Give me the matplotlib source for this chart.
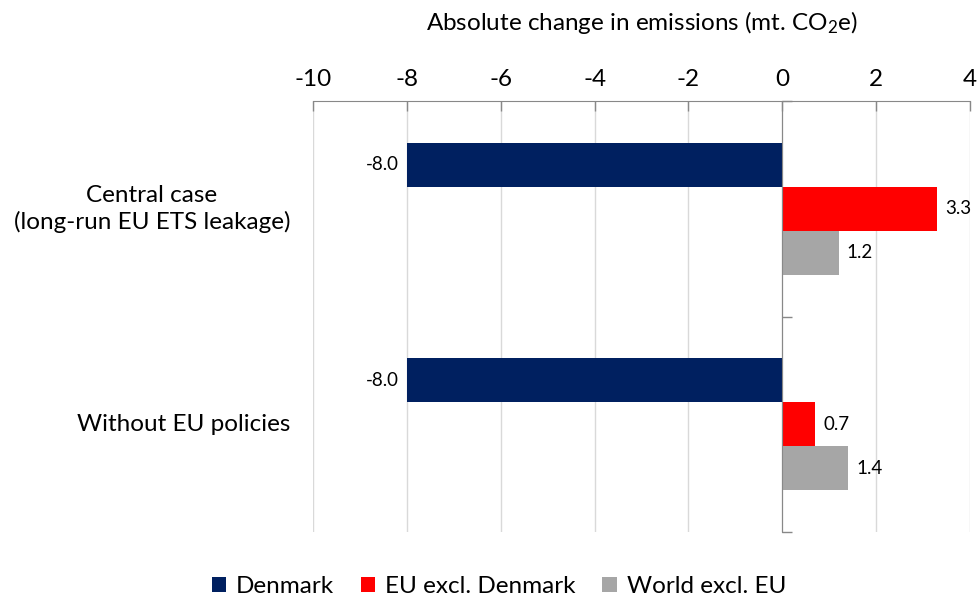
import matplotlib
matplotlib.use("Agg")
import matplotlib.pyplot as plt
import matplotlib.transforms as mtransforms
from matplotlib.patches import Patch
import numpy as np

plt.rcParams['font.family'] = ['Lato', 'DejaVu Sans']
plt.rcParams['mathtext.fontset'] = 'custom'
plt.rcParams['mathtext.rm'] = 'Lato'
plt.rcParams['mathtext.it'] = 'Lato:italic'
plt.rcParams['mathtext.bf'] = 'Lato:bold'

categories = ["Central case\n(long-run EU ETS leakage)", "Without EU policies"]
series_names = ["Denmark", "EU excl. Denmark", "World excl. EU"]
denmark = [-8.0, -8.0]
eu_excl_dk = [3.3, 0.7]
world_excl_eu = [1.2, 1.4]
x_ticks = [-10, -8, -6, -4, -2, 0, 2, 4]

colors = ["#002060", "#FF0000", "#A6A6A6"]
values = [denmark, eu_excl_dk, world_excl_eu]

fig = plt.figure(figsize=(9.78, 6.01), dpi=100)
ax = fig.add_axes([313 / 978, 1 - 532 / 601, (970 - 313) / 978, (532 - 101) / 601])

bar_h = 0.204
offsets = [-bar_h, 0.0, bar_h]
y = np.arange(len(categories))
for vals, off, col in zip(values, offsets, colors):
    bars = ax.barh(y + off, vals, height=bar_h, color=col, zorder=3)
    for b, v in zip(bars, vals):
        yc = b.get_y() + b.get_height() / 2
        if v < 0:
            ax.annotate(f"{v:.1f}", (v, yc), xytext=(-6, 0), textcoords="offset points",
                        ha="right", va="center", fontsize=13.5, color="#000000")
        else:
            ax.annotate(f"{v:.1f}", (v, yc), xytext=(6, 0), textcoords="offset points",
                        ha="left", va="center", fontsize=13.5, color="#000000")

ax.set_xlim(-10, 4)
ax.set_ylim(len(categories) - 0.5, -0.5)

# x axis along the top
ax.xaxis.tick_top()
ax.xaxis.set_label_position("top")
ax.set_xticks(x_ticks)
ax.set_xticklabels([f"{t}" for t in x_ticks])
ax.tick_params(axis="x", direction="in", length=7, width=1, color="#888888",
               labelsize=17.5, pad=8, labelcolor="#000000")
ax.set_xlabel("Absolute change in emissions (mt. CO$_2$e)", fontsize=17.5, labelpad=28)
ax.xaxis.grid(True, color="#D9D9D9", linewidth=1, zorder=0)

# vertical axis crossing at zero, with ticks at the category boundaries
for s in ["right", "bottom"]:
    ax.spines[s].set_visible(False)
ax.spines["top"].set_color("#888888")
ax.spines["left"].set_position(("data", 0))
ax.spines["left"].set_color("#888888")
ax.spines["left"].set_zorder(4)
ax.set_yticks([-0.5, 0.5, 1.5])
ax.set_yticklabels([])
ax.tick_params(axis="y", direction="in", length=7, width=1, color="#888888")

trans = mtransforms.blended_transform_factory(ax.transAxes, ax.transData)
for yi, cat in zip(y, categories):
    ax.text(-0.035, yi, cat, transform=trans, ha="right", va="center",
            multialignment="center", fontsize=17.5, linespacing=1.25)

handles = [Patch(facecolor=c, edgecolor="none") for c in colors]
fig.legend(handles, series_names, loc="lower center", bbox_to_anchor=(0.51, -0.03),
           ncol=3, frameon=False, fontsize=17.5, handlelength=0.6, handleheight=0.6,
           handletextpad=0.4, columnspacing=1.1)

fig.savefig("out.png", dpi=100)
